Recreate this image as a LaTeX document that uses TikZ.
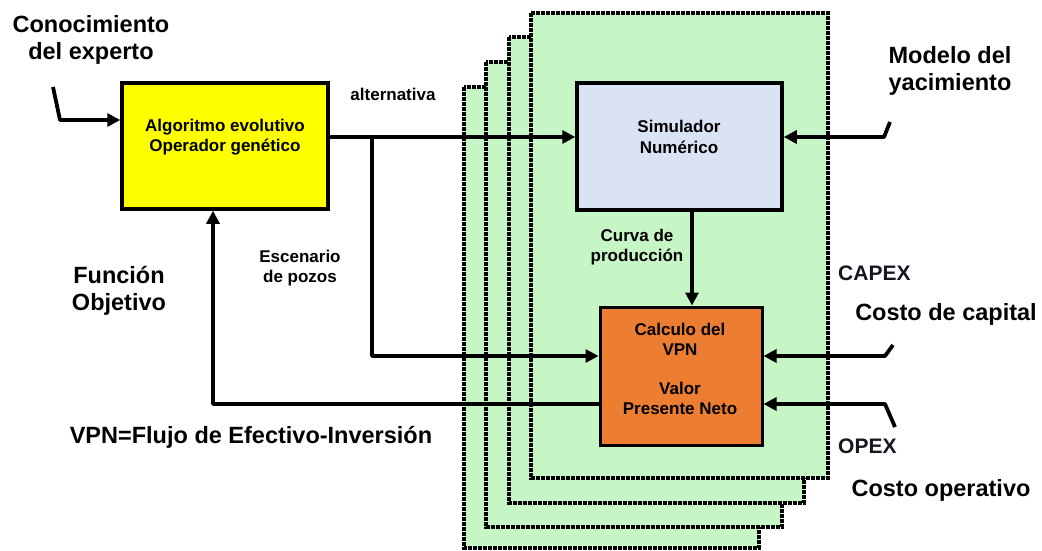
\documentclass[tikz,border=0pt]{standalone}
\usepackage{fontspec}
\setmainfont{Liberation Sans}
\usetikzlibrary{arrows.meta}
\definecolor{pagegreen}{RGB}{198,245,198}
\definecolor{boxyellow}{RGB}{255,255,0}
\definecolor{boxblue}{RGB}{218,227,243}
\definecolor{boxorange}{RGB}{237,125,49}
\definecolor{costink}{RGB}{22,22,34}
\tikzset{
  page/.style={fill=pagegreen, draw=black, line width=3.4pt, dash pattern=on 3.6pt off 1.4pt},
  procbox/.style={draw=black, line width=3.5pt, inner sep=0pt},
  arr/.style={line width=3.8pt, line join=round, -{Triangle[length=13pt,width=13pt]}},
  small/.style={font=\bfseries\fontsize{17}{20.5}\selectfont, align=center, inner sep=0pt},
  big/.style={font=\bfseries\fontsize{23.5}{27.5}\selectfont, align=center, inner sep=0pt},
  costlabel/.style={font=\bfseries\fontsize{21}{24}\selectfont, text=costink, inner sep=0pt, anchor=west}
}
\begin{document}
\begin{tikzpicture}[x=1pt, y=-1pt]
\useasboundingbox (0,0) rectangle (1042,550);
\fill[white] (0,0) rectangle (1042,550);

% stack of scenario sheets, back to front
\draw[page] (464,87) rectangle (759,548);
\draw[page] (486,62) rectangle (782,527);
\draw[page] (509,37) rectangle (804,503);
\draw[page] (531,13) rectangle (828,478);

% process boxes
\node[procbox, fill=boxyellow, minimum width=206pt, minimum height=126pt] (alg) at (225,146) {};
\node[procbox, fill=boxblue, minimum width=205pt, minimum height=127pt] (sim) at (679.5,146.5) {};
\node[procbox, fill=boxorange, line width=3pt, minimum width=162pt, minimum height=138pt] (vpn) at (681,376) {};

\node[small] (algtxt) at (225,137) {Algoritmo evolutivo\\Operador genético};
\node[small] (simtxt) at (679,137) {Simulador\\Numérico};
\node[small] (vpntxt) at (680,369) {Calculo del\\VPN\\[18pt]Valor\\Presente Neto};

% routing points
\coordinate (ke) at (53,87);
\coordinate (kc) at (60,120);
\coordinate (split) at (372,137);
\coordinate (yin) at (0,356);
\coordinate (yout) at (0,404);
\coordinate (xprod) at (692,0);
\coordinate (fb) at (213,404);
\coordinate (me) at (890,122);
\coordinate (mc) at (884,137);
\coordinate (ce) at (893,345);
\coordinate (cc) at (885,356);
\coordinate (oe) at (895,427);
\coordinate (oc) at (885,404);

% connectors
\draw[arr] (ke) -- (kc) -- (alg.west |- kc);
\draw[arr] (alg.east |- split) -- (sim.west |- split);
\draw[arr] (split) -- (split |- yin) -- (vpn.west |- yin);
\draw[arr] (sim.south -| xprod) -- (vpn.north -| xprod);
\draw[arr] (vpn.west |- yout) -- (fb) -- (alg.south -| fb);
\draw[arr] (me) -- (mc) -- (sim.east |- mc);
\draw[arr] (ce) -- (cc) -- (vpn.east |- cc);
\draw[arr] (oe) -- (oc) -- (vpn.east |- oc);

% labels
\node[big] (conoc) at (91,40) {Conocimiento\\del experto};
\node[big] (modelo) at (950,71) {Modelo del\\yacimiento};
\node[big] (funcion) at (119,291) {Función\\Objetivo};
\node[big] (vpneq) at (251,437) {VPN=Flujo de Efectivo-Inversión};
\node[big] (capital) at (946,314) {Costo de capital};
\node[big] (operativo) at (941,490) {Costo operativo};
\node[costlabel] (capex) at (838,273) {CAPEX};
\node[costlabel] (opex) at (838,446) {OPEX};
\node[small] (alt) at (393,94) {alternativa};
\node[small] (escen) at (300,268) {Escenario\\de pozos};
\node[small] (curva) at (637,247) {Curva de\\producción};
\end{tikzpicture}
\end{document}
